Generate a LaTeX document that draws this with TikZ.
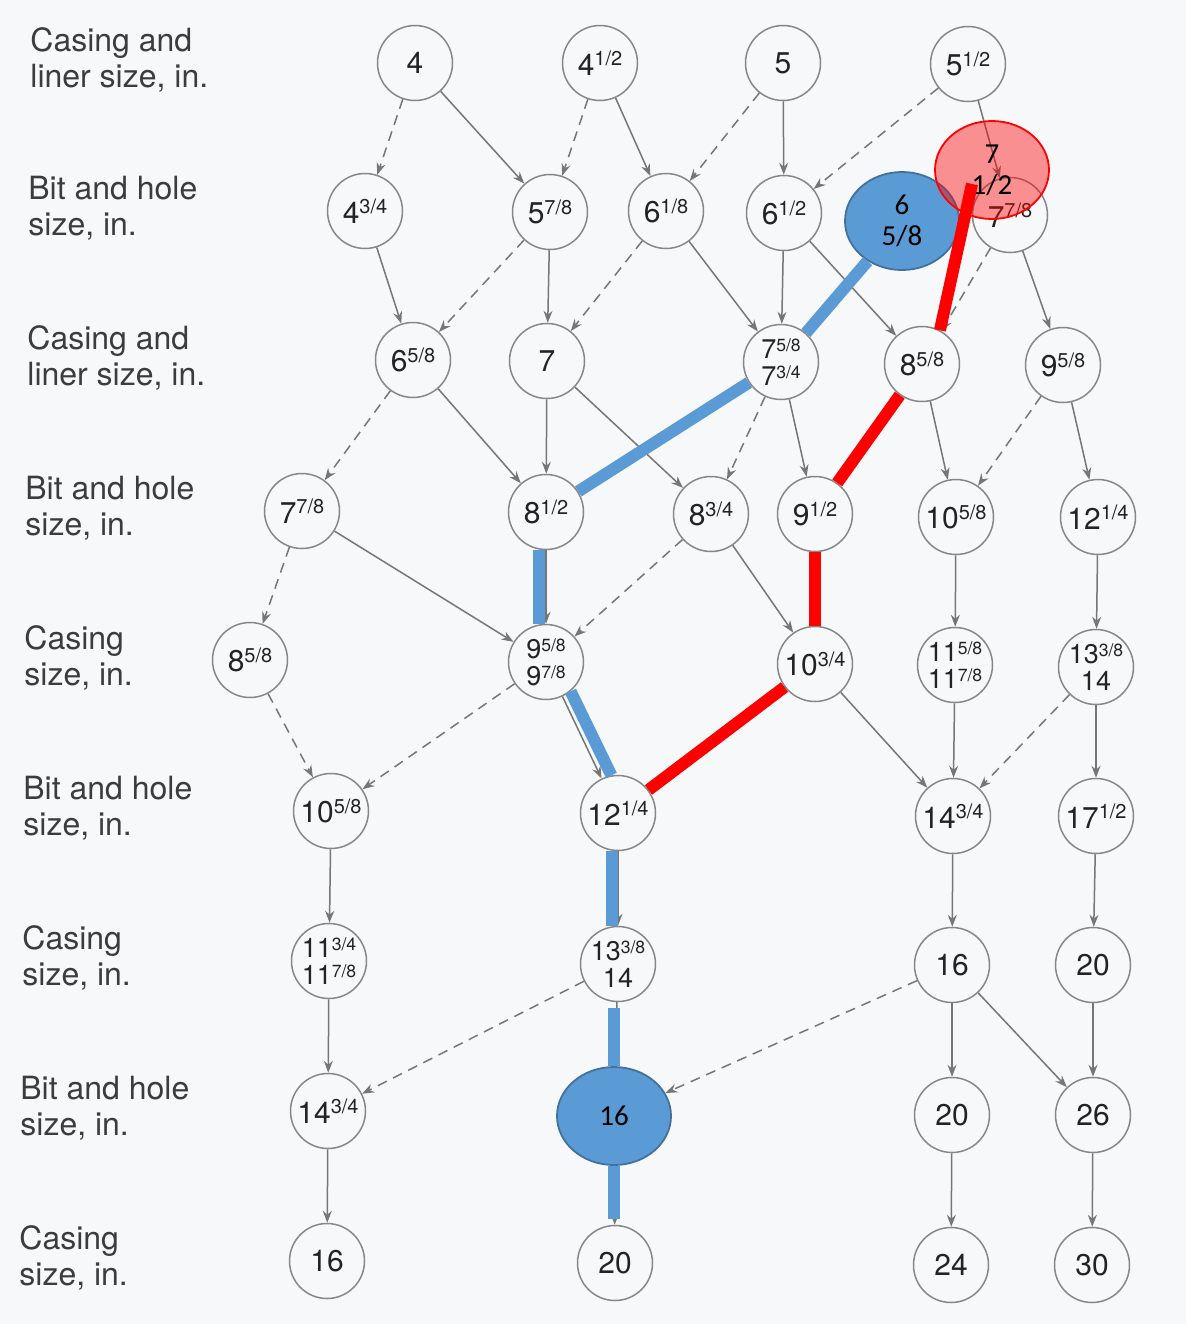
\documentclass[tikz,border=0pt]{standalone}
\usepackage{fontspec}
\setmainfont{TeX Gyre Heros}
\newfontfamily\calfont{Carlito}
\usetikzlibrary{arrows.meta,shapes.geometric}
\definecolor{bgc}{RGB}{247,248,250}
\definecolor{edgec}{RGB}{118,118,118}
\definecolor{circc}{RGB}{135,135,135}
\definecolor{txtc}{RGB}{35,35,35}
\definecolor{labc}{RGB}{60,60,60}
\definecolor{pathblue}{RGB}{91,155,213}
\definecolor{ellblue}{RGB}{65,113,156}
\newcommand\fa[1]{\raisebox{4.8pt}{\fontsize{10}{10}\selectfont #1}}
\newcommand\fb[1]{\raisebox{3.6pt}{\fontsize{8.8}{8.8}\selectfont #1}}
\begin{document}
\begin{tikzpicture}[x=0.5pt,y=-0.5pt,
 cn/.style={circle, draw=circc, line width=0.75pt, minimum size=37.5pt, inner sep=0pt, text=txtc, font=\fontsize{15}{15}\selectfont},
 cn2/.style={cn, align=center, font=\fontsize{13.5}{13.5}\selectfont},
 lab/.style={anchor=west, align=left, text=labc, font=\fontsize{16}{18}\selectfont, inner sep=0pt},
 ar/.style={draw=edgec, line width=0.75pt, -{Stealth[length=6pt,width=4.5pt,inset=2pt]}},
 dar/.style={ar, dash pattern=on 5pt off 3.5pt},
 bpath/.style={draw=pathblue, line width=6pt},
 rpath/.style={draw=red, line width=6pt},
 ell/.style={ellipse, minimum width=57pt, minimum height=49pt, inner sep=0pt, align=center, font=\calfont\fontsize{14.5}{15.5}\selectfont, text=black, line width=0.9pt}]
\fill[bgc] (0,0) rectangle (1186,1324);
\useasboundingbox (0,0) rectangle (1186,1324);
% row labels
\node[lab] (l1) at (30,60) {Casing and\\liner size, in.};
\node[lab] (l2) at (28,208) {Bit and hole\\size, in.};
\node[lab] (l3) at (27,358) {Casing and\\liner size, in.};
\node[lab] (l4) at (25,508) {Bit and hole\\size, in.};
\node[lab] (l5) at (24,658) {Casing\\size, in.};
\node[lab] (l6) at (23,808) {Bit and hole\\size, in.};
\node[lab] (l7) at (22,958) {Casing\\size, in.};
\node[lab] (l8) at (20,1108) {Bit and hole\\size, in.};
\node[lab] (l9) at (19,1258) {Casing\\size, in.};
% row 1
\node[cn] (r1a) at (415,63) {4};
\node[cn] (r1b) at (600,63) {4\fa{1/2}};
\node[cn] (r1c) at (783,63) {5};
\node[cn] (r1d) at (968,64) {5\fa{1/2}};
% row 2
\node[cn] (r2a) at (365,211) {4\fa{3/4}};
\node[cn] (r2b) at (550,212) {5\fa{7/8}};
\node[cn] (r2c) at (666,211) {6\fa{1/8}};
\node[cn] (r2d) at (784,213) {6\fa{1/2}};
\node[cn] (r2e) at (1010,215) {7\fa{7/8}};
% row 3
\node[cn] (r3a) at (413,360) {6\fa{5/8}};
\node[cn] (r3b) at (547,361) {7};
\node[cn2] (r3c) at (781,362) {7\fb{5/8}\\7\fb{3/4}};
\node[cn] (r3d) at (922,364) {8\fa{5/8}};
\node[cn] (r3e) at (1063,365) {9\fa{5/8}};
% row 4
\node[cn] (r4a) at (302,511) {7\fa{7/8}};
\node[cn] (r4b) at (546,512) {8\fa{1/2}};
\node[cn] (r4c) at (711,514) {8\fa{3/4}};
\node[cn] (r4d) at (815,514) {9\fa{1/2}};
\node[cn] (r4e) at (956,517) {10\fa{5/8}};
\node[cn] (r4f) at (1098,517) {12\fa{1/4}};
% row 5
\node[cn] (r5a) at (250,660) {8\fa{5/8}};
\node[cn2] (r5b) at (546,662) {9\fb{5/8}\\9\fb{7/8}};
\node[cn] (r5c) at (815,664) {10\fa{3/4}};
\node[cn2] (r5d) at (955,665) {11\fb{5/8}\\11\fb{7/8}};
\node[cn2] (r5e) at (1096,667) {13\fb{3/8}\\14};
% row 6
\node[cn] (r6a) at (331,811) {10\fa{5/8}};
\node[cn] (r6b) at (618,813) {12\fa{1/4}};
\node[cn] (r6c) at (953,816) {14\fa{3/4}};
\node[cn] (r6d) at (1096,816) {17\fa{1/2}};
% row 7
\node[cn2] (r7a) at (329,961) {11\fb{3/4}\\11\fb{7/8}};
\node[cn2] (r7b) at (618,964) {13\fb{3/8}\\14};
\node[cn] (r7c) at (952,965) {16};
\node[cn] (r7d) at (1093,965) {20};
% row 8
\node[cn] (r8a) at (328,1111) {14\fa{3/4}};
\node[ell, fill=pathblue, draw=ellblue] (r8b) at (614,1116) {16};
\node[cn] (r8c) at (952,1115) {20};
\node[cn] (r8d) at (1093,1115) {26};
% row 9
\node[cn] (r9a) at (327,1261) {16};
\node[cn] (r9b) at (615,1263) {20};
\node[cn] (r9c) at (951,1265) {24};
\node[cn] (r9d) at (1092,1265) {30};
% solid arrows
\foreach \a/\b in {r1a/r2b, r1b/r2c, r1c/r2d, r1d/r2e, r2a/r3a, r2b/r3b, r2c/r3c, r2d/r3c, r2d/r3d, r2e/r3e,
 r3a/r4b, r3b/r4b, r3b/r4c, r3c/r4d, r3d/r4e, r3e/r4f, r4a/r5b, r4b/r5b, r4c/r5c, r4d/r5c, r4e/r5d, r4f/r5e,
 r5b/r6b, r5c/r6b, r5c/r6c, r5d/r6c, r5e/r6d, r6a/r7a, r6b/r7b, r6c/r7c, r6d/r7d,
 r7a/r8a, r7b/r8b, r7c/r8c, r7c/r8d, r7d/r8d, r8a/r9a, r8b/r9b, r8c/r9c, r8d/r9d}
 \draw[ar] (\a) -- (\b);
% dashed arrows
\foreach \a/\b in {r1a/r2a, r1b/r2b, r1c/r2c, r1d/r2d, r2b/r3a, r2c/r3b, r2e/r3d, r3a/r4a, r3c/r4c, r3e/r4e,
 r4a/r5a, r4c/r5b, r5a/r6a, r5b/r6a, r5e/r6c, r7b/r8a, r7c/r8b}
 \draw[dar] (\a) -- (\b);
% highlighted annotations
\node[ell, fill=pathblue, draw=ellblue] (ba) at (902,221) {6\\5/8};
\node[ell, fill=red, fill opacity=0.42, text opacity=1, draw=red] (ra) at (992,170) {7\\1/2};
\coordinate (rtop) at (972,184);
% blue path
\draw[bpath] (ba) -- (r3c);
\draw[bpath] (r3c) -- (r4b);
\draw[bpath] ([xshift=-3.5pt]r4b.south) -- ([xshift=-3.5pt]r5b.north);
\draw[bpath] (r5b.-50) -- (r6b.100);
\draw[bpath] ([xshift=-3pt]r6b.south) -- ([xshift=-3pt]r7b.north);
\draw[bpath] ([yshift=-3pt]r7b.south -| r8b.north) -- (r8b.north);
\draw[bpath] (r8b.south) -- ([yshift=3pt]r9b.north -| r8b.south);
% red path
\draw[rpath] (rtop) -- (r3d.62);
\draw[rpath] (r3d) -- (r4d);
\draw[rpath] (r4d.south) -- (r5c.north);
\draw[rpath] (r5c) -- (r6b);
\end{tikzpicture}
\end{document}
